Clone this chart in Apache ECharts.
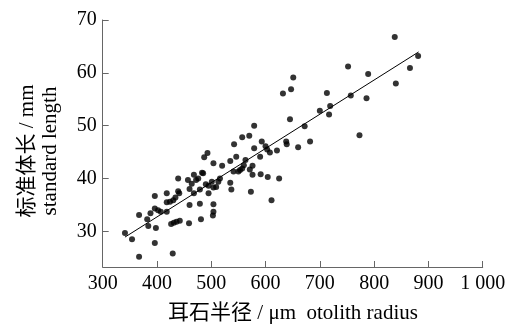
<!DOCTYPE html>
<html><head><meta charset="utf-8">
<script src="https://cdn.jsdelivr.net/npm/echarts@6/dist/echarts.min.js"></script>
<style>html,body{margin:0;padding:0;background:#fff}#c{width:511px;height:326px}</style>
</head><body><div id="c"></div>
<script>
// otolith radius (µm)
const radius = [341,354,367,367,382,384,388,396,396,398,396,402,407,418,418,418,424,426,429,430,431,434,436,439,439,441,442,457,460,460,459,464,468,468,472,476,479,479,481,483,485,487,493,490,495,495,501,504,504,504,504,503,509,513,516,520,535,535,537,542,541,546,550,553,557,557,560,563,570,571,573,576,576,579,579,590,591,593,600,603,604,608,611,621,625,638,639,645,660,672,682,700,717,773,632,647,651,713,719,752,757,786,789,838,840,866,881];
// standard length (mm)
const stdLength = [29.7,28.5,33.1,25.2,32.3,31.0,33.4,36.7,34.3,30.6,27.8,34.0,33.7,37.2,35.5,33.7,35.6,31.4,25.8,35.9,31.6,36.4,31.8,37.6,40.0,37.2,32.0,39.7,38.0,35.0,31.5,39.0,40.7,37.2,39.7,40.0,37.9,35.2,32.3,41.1,41.0,44.0,44.8,38.9,38.6,37.2,39.4,42.9,38.3,35.1,33.7,33.0,38.4,39.4,40.0,42.4,43.3,39.2,37.9,46.5,41.3,44.1,41.3,41.6,47.8,41.9,42.5,43.5,48.1,41.7,37.5,42.4,40.7,50.0,45.7,44.1,40.8,47.0,46.1,45.5,40.3,44.9,35.9,45.3,40.0,47.0,46.5,51.2,45.9,49.9,47.0,52.8,52.1,48.2,56.1,56.9,59.1,56.2,53.7,61.2,55.7,55.2,59.8,66.8,58.0,60.9,63.2];
// fitted regression line
const fitSlope = 0.0648;
const fitIntercept = 6.8;
const fitRange = [341, 882];
// tick labels
const xTicks = [300,400,500,600,700,800,900,1000];
const yTicks = [30,40,50,60,70];

const points = radius.map((x,i)=>[x, stdLength[i]]);
const fitLine = fitRange.map(x=>[x, fitSlope*x+fitIntercept]);

const font = '"Liberation Serif","Times New Roman",serif';
const chart = echarts.init(document.getElementById('c'), null, {renderer:'canvas'});
chart.setOption({
  animation:false,
  backgroundColor:'#fff',
  grid:{left:102.7, right:28.3, top:20, bottom:59},
  xAxis:{
    type:'value', min:300, max:1000, interval:100,
    axisLine:{show:true, lineStyle:{color:'#666', width:1}},
    axisTick:{show:true, inside:true, length:6, lineStyle:{color:'#666'}},
    splitLine:{show:false},
    axisLabel:{color:'#000', fontFamily:font, fontSize:20, margin:7,
      formatter:v=> v>=1000 ? String(v).replace(/(\d)(\d{3})$/,'$1 $2') : String(v)}
  },
  yAxis:{
    type:'value', min:23.24, max:70,
    axisLine:{show:true, lineStyle:{color:'#666', width:1}},
    axisTick:{show:true, inside:true, length:6, lineStyle:{color:'#666'}, customValues:yTicks},
    splitLine:{show:false},
    axisLabel:{color:'#000', fontFamily:font, fontSize:20, margin:6, customValues:yTicks}
  },
  graphic:[
    {type:'text', x:293, y:313, style:{text:'耳石半径 / μm  otolith radius', fill:'#000',
      font:'21px '+font+',"Noto Sans CJK SC"', align:'center', verticalAlign:'middle'}},
    {type:'text', x:38.5, y:151, rotation:Math.PI/2, style:{text:'标准体长 / mm\nstandard length', fill:'#000',
      font:'21px '+font+',"Noto Sans CJK SC"', align:'center', verticalAlign:'middle', lineHeight:23}}
  ],
  series:[
    {type:'scatter', data:points, symbol:'circle', symbolSize:6, itemStyle:{color:'#000'}, z:3},
    {type:'line', data:fitLine, symbol:'none', lineStyle:{color:'#000', width:1}, z:2}
  ]
});
</script></body></html>
